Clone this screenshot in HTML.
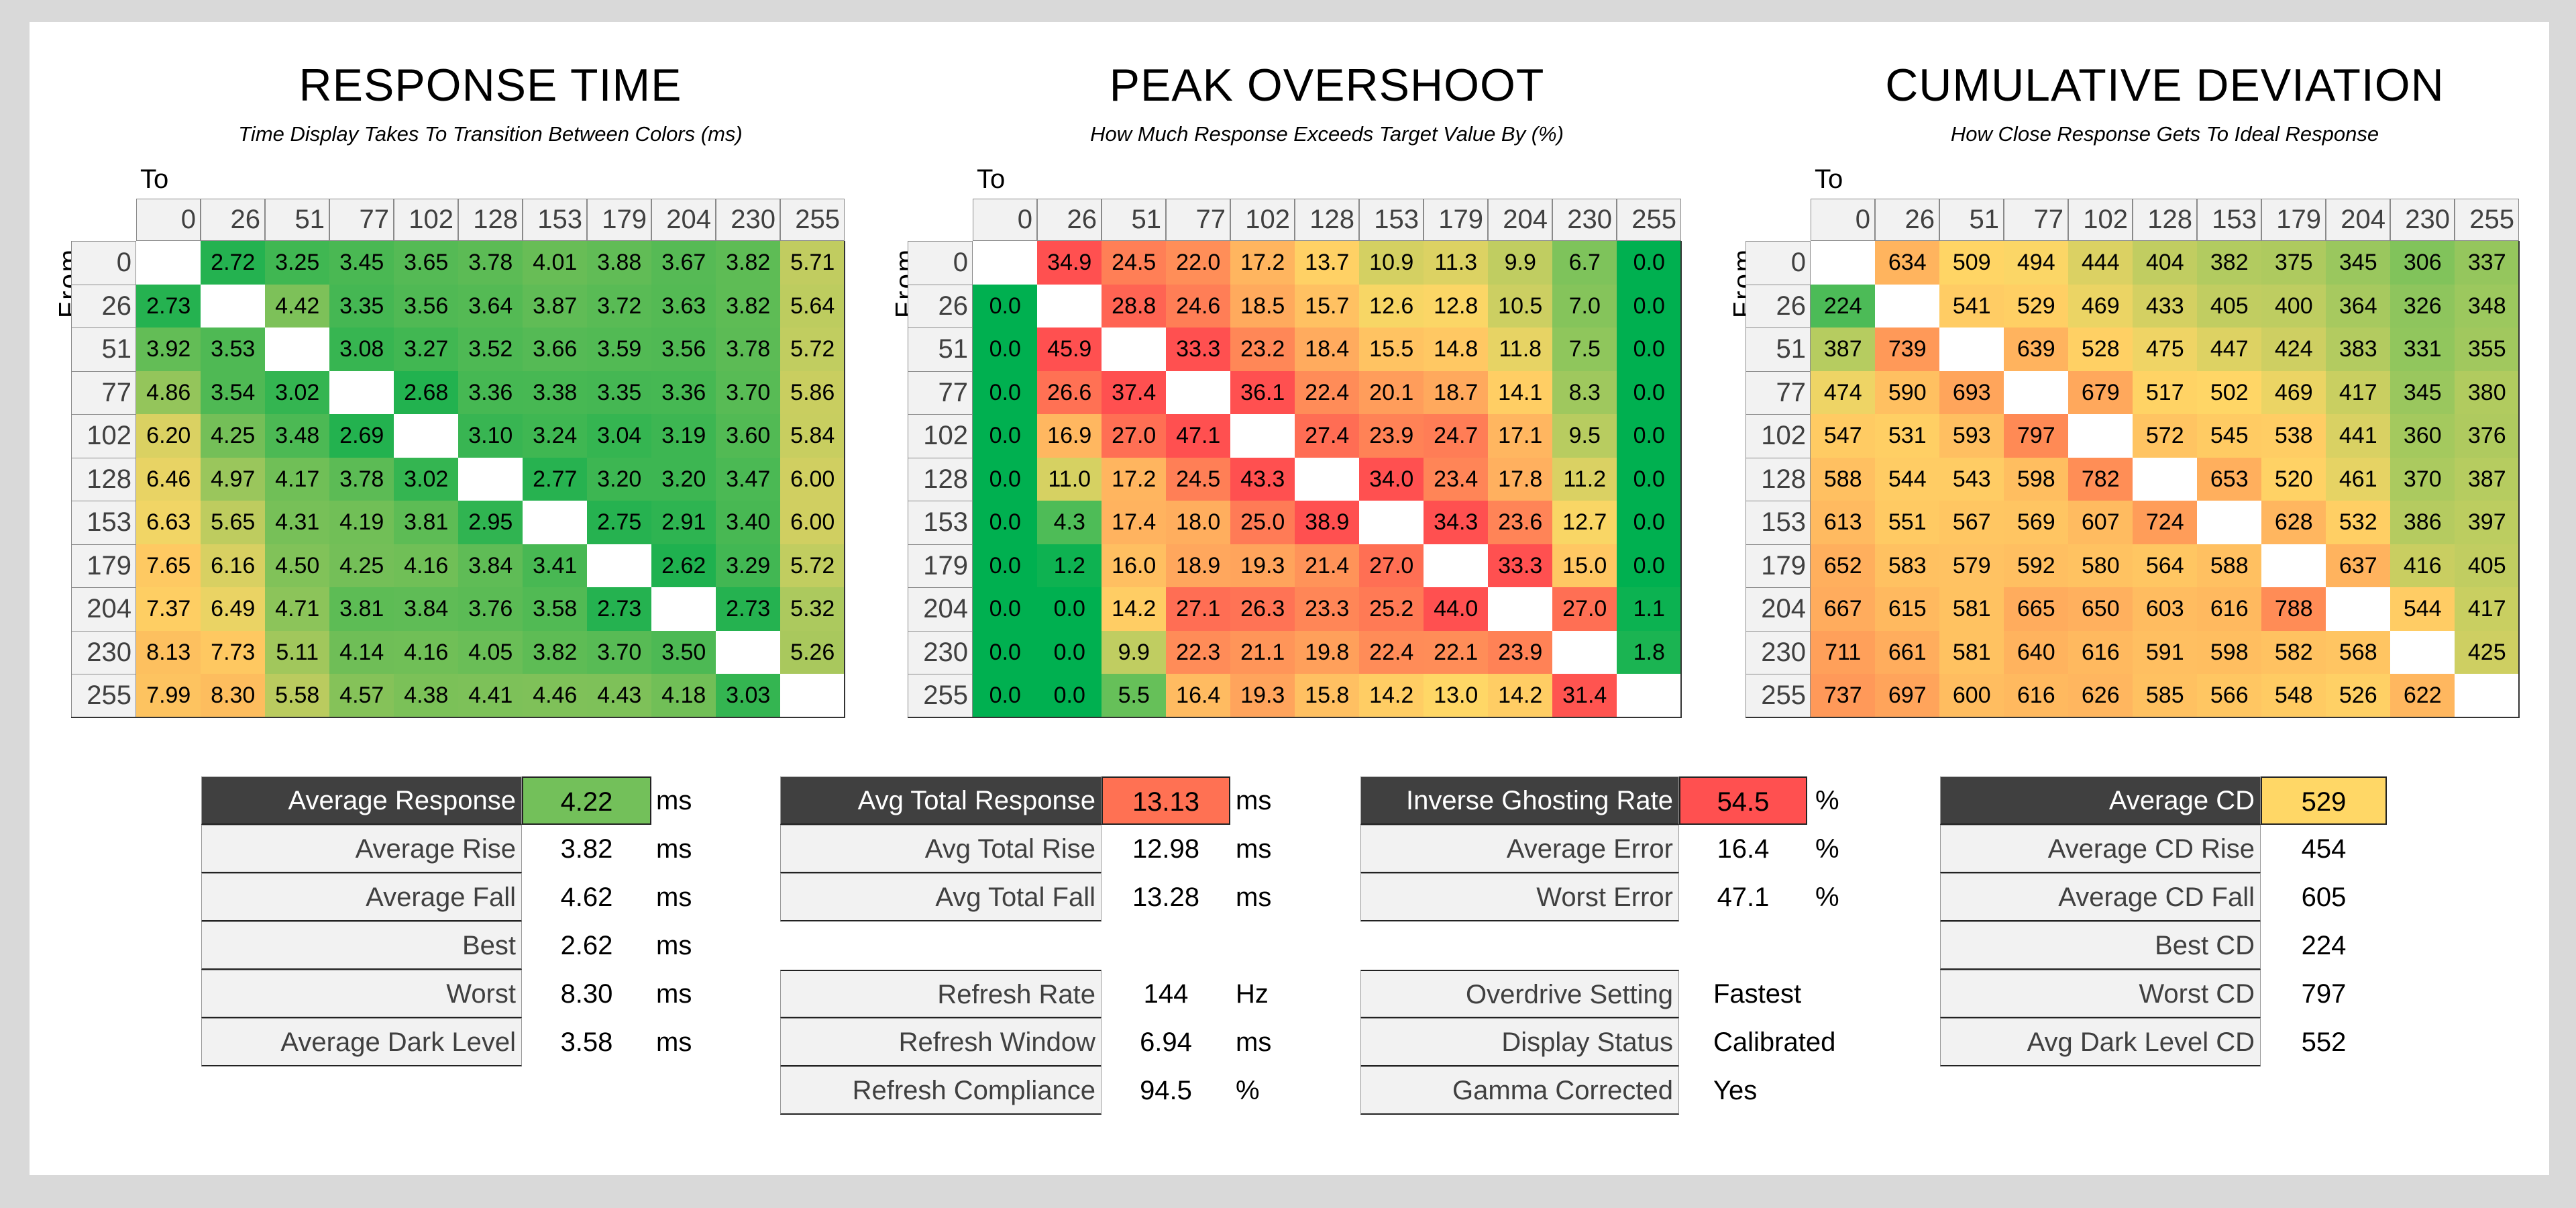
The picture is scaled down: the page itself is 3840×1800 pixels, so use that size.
<!DOCTYPE html>
<html><head><meta charset="utf-8">
<style>
html,body{margin:0;padding:0}
body{width:3840px;height:1800px;background:#d9d9d9;position:relative;overflow:hidden;font-family:"Liberation Sans Narrow","Liberation Sans",sans-serif;}
#panel{position:absolute;left:44px;top:33px;width:3756px;height:1718px;background:#fff}
.abs{position:absolute;box-sizing:border-box}
.title{position:absolute;width:1056px;text-align:center;font-size:68px;color:#000;letter-spacing:1px;top:88px}
.sub{position:absolute;width:1056px;text-align:center;font-size:31px;font-style:italic;color:#000;top:182px}
.to{position:absolute;font-size:40px;top:245px}
.from{position:absolute;font-size:40px;transform:rotate(-90deg);transform-origin:center;letter-spacing:3px}
.hc{position:absolute;box-sizing:border-box;background:#f2f2f2;border:1px solid #8a8a8a;color:#404040;font-size:40px;text-align:right;padding-right:6px;display:flex;align-items:center;justify-content:flex-end}
.cell{position:absolute;box-sizing:border-box;font-size:34px;color:#000;display:flex;align-items:center;justify-content:center}
.lab{position:absolute;box-sizing:border-box;background:#f2f2f2;border:1px solid #999;border-bottom:2px solid #222;color:#404040;font-size:40px;text-align:right;padding-right:8px;height:72px;line-height:70px}
.lab.dark{background:#404040;color:#fff}
.val{position:absolute;box-sizing:border-box;font-size:40px;text-align:center;height:72px;line-height:72px;color:#000}
.val.box{border:2px solid #222}
.unit{position:absolute;font-size:40px;height:72px;line-height:72px;color:#000}
</style></head>
<body>
<div id="panel"></div>

<div class="title" style="left:203px">RESPONSE TIME</div>
<div class="sub" style="left:203px">Time Display Takes To Transition Between Colors (ms)</div>
<div class="title" style="left:1450px">PEAK OVERSHOOT</div>
<div class="sub" style="left:1450px">How Much Response Exceeds Target Value By (%)</div>
<div class="title" style="left:2699px">CUMULATIVE DEVIATION</div>
<div class="sub" style="left:2699px">How Close Response Gets To Ideal Response</div>

<div id="hm"></div>

<div id="tables">
<!-- table 1 -->
<div class="lab dark" style="left:300px;top:1157px;width:478px">Average Response</div>
<div class="val box" style="left:778px;top:1157px;width:193px;background:#73c05a">4.22</div>
<div class="unit" style="left:978px;top:1157px">ms</div>
<div class="lab" style="left:300px;top:1229px;width:478px">Average Rise</div>
<div class="val" style="left:778px;top:1229px;width:193px">3.82</div>
<div class="unit" style="left:978px;top:1229px">ms</div>
<div class="lab" style="left:300px;top:1301px;width:478px">Average Fall</div>
<div class="val" style="left:778px;top:1301px;width:193px">4.62</div>
<div class="unit" style="left:978px;top:1301px">ms</div>
<div class="lab" style="left:300px;top:1373px;width:478px">Best</div>
<div class="val" style="left:778px;top:1373px;width:193px">2.62</div>
<div class="unit" style="left:978px;top:1373px">ms</div>
<div class="lab" style="left:300px;top:1445px;width:478px">Worst</div>
<div class="val" style="left:778px;top:1445px;width:193px">8.30</div>
<div class="unit" style="left:978px;top:1445px">ms</div>
<div class="lab" style="left:300px;top:1517px;width:478px">Average Dark Level</div>
<div class="val" style="left:778px;top:1517px;width:193px">3.58</div>
<div class="unit" style="left:978px;top:1517px">ms</div>
<!-- table 2 -->
<div class="lab dark" style="left:1163px;top:1157px;width:479px">Avg Total Response</div>
<div class="val box" style="left:1642px;top:1157px;width:192px;background:#ff7153">13.13</div>
<div class="unit" style="left:1842px;top:1157px">ms</div>
<div class="lab" style="left:1163px;top:1229px;width:479px">Avg Total Rise</div>
<div class="val" style="left:1642px;top:1229px;width:192px">12.98</div>
<div class="unit" style="left:1842px;top:1229px">ms</div>
<div class="lab" style="left:1163px;top:1301px;width:479px">Avg Total Fall</div>
<div class="val" style="left:1642px;top:1301px;width:192px">13.28</div>
<div class="unit" style="left:1842px;top:1301px">ms</div>
<div class="lab" style="left:1163px;top:1445px;width:479px;border-top:2px solid #222">Refresh Rate</div>
<div class="val" style="left:1642px;top:1445px;width:192px">144</div>
<div class="unit" style="left:1842px;top:1445px">Hz</div>
<div class="lab" style="left:1163px;top:1517px;width:479px">Refresh Window</div>
<div class="val" style="left:1642px;top:1517px;width:192px">6.94</div>
<div class="unit" style="left:1842px;top:1517px">ms</div>
<div class="lab" style="left:1163px;top:1589px;width:479px">Refresh Compliance</div>
<div class="val" style="left:1642px;top:1589px;width:192px">94.5</div>
<div class="unit" style="left:1842px;top:1589px">%</div>
<!-- table 3 -->
<div class="lab dark" style="left:2028px;top:1157px;width:475px">Inverse Ghosting Rate</div>
<div class="val box" style="left:2503px;top:1157px;width:191px;background:#ff5050">54.5</div>
<div class="unit" style="left:2706px;top:1157px">%</div>
<div class="lab" style="left:2028px;top:1229px;width:475px">Average Error</div>
<div class="val" style="left:2503px;top:1229px;width:191px">16.4</div>
<div class="unit" style="left:2706px;top:1229px">%</div>
<div class="lab" style="left:2028px;top:1301px;width:475px">Worst Error</div>
<div class="val" style="left:2503px;top:1301px;width:191px">47.1</div>
<div class="unit" style="left:2706px;top:1301px">%</div>
<div class="lab" style="left:2028px;top:1445px;width:475px;border-top:2px solid #222">Overdrive Setting</div>
<div class="unit" style="left:2554px;top:1445px">Fastest</div>
<div class="lab" style="left:2028px;top:1517px;width:475px">Display Status</div>
<div class="unit" style="left:2554px;top:1517px">Calibrated</div>
<div class="lab" style="left:2028px;top:1589px;width:475px">Gamma Corrected</div>
<div class="unit" style="left:2554px;top:1589px">Yes</div>
<!-- table 4 -->
<div class="lab dark" style="left:2892px;top:1157px;width:478px">Average CD</div>
<div class="val box" style="left:3370px;top:1157px;width:188px;background:#ffd766">529</div>
<div class="lab" style="left:2892px;top:1229px;width:478px">Average CD Rise</div>
<div class="val" style="left:3370px;top:1229px;width:188px">454</div>
<div class="lab" style="left:2892px;top:1301px;width:478px">Average CD Fall</div>
<div class="val" style="left:3370px;top:1301px;width:188px">605</div>
<div class="lab" style="left:2892px;top:1373px;width:478px">Best CD</div>
<div class="val" style="left:3370px;top:1373px;width:188px">224</div>
<div class="lab" style="left:2892px;top:1445px;width:478px">Worst CD</div>
<div class="val" style="left:3370px;top:1445px;width:188px">797</div>
<div class="lab" style="left:2892px;top:1517px;width:478px">Avg Dark Level CD</div>
<div class="val" style="left:3370px;top:1517px;width:188px">552</div>
</div>

<script>
const levels = [0,26,51,77,102,128,153,179,204,230,255];
const rtValues = [
[null,2.72,3.25,3.45,3.65,3.78,4.01,3.88,3.67,3.82,5.71],
[2.73,null,4.42,3.35,3.56,3.64,3.87,3.72,3.63,3.82,5.64],
[3.92,3.53,null,3.08,3.27,3.52,3.66,3.59,3.56,3.78,5.72],
[4.86,3.54,3.02,null,2.68,3.36,3.38,3.35,3.36,3.70,5.86],
[6.20,4.25,3.48,2.69,null,3.10,3.24,3.04,3.19,3.60,5.84],
[6.46,4.97,4.17,3.78,3.02,null,2.77,3.20,3.20,3.47,6.00],
[6.63,5.65,4.31,4.19,3.81,2.95,null,2.75,2.91,3.40,6.00],
[7.65,6.16,4.50,4.25,4.16,3.84,3.41,null,2.62,3.29,5.72],
[7.37,6.49,4.71,3.81,3.84,3.76,3.58,2.73,null,2.73,5.32],
[8.13,7.73,5.11,4.14,4.16,4.05,3.82,3.70,3.50,null,5.26],
[7.99,8.30,5.58,4.57,4.38,4.41,4.46,4.43,4.18,3.03,null]];
const osValues = [
[null,34.9,24.5,22.0,17.2,13.7,10.9,11.3,9.9,6.7,0.0],
[0.0,null,28.8,24.6,18.5,15.7,12.6,12.8,10.5,7.0,0.0],
[0.0,45.9,null,33.3,23.2,18.4,15.5,14.8,11.8,7.5,0.0],
[0.0,26.6,37.4,null,36.1,22.4,20.1,18.7,14.1,8.3,0.0],
[0.0,16.9,27.0,47.1,null,27.4,23.9,24.7,17.1,9.5,0.0],
[0.0,11.0,17.2,24.5,43.3,null,34.0,23.4,17.8,11.2,0.0],
[0.0,4.3,17.4,18.0,25.0,38.9,null,34.3,23.6,12.7,0.0],
[0.0,1.2,16.0,18.9,19.3,21.4,27.0,null,33.3,15.0,0.0],
[0.0,0.0,14.2,27.1,26.3,23.3,25.2,44.0,null,27.0,1.1],
[0.0,0.0,9.9,22.3,21.1,19.8,22.4,22.1,23.9,null,1.8],
[0.0,0.0,5.5,16.4,19.3,15.8,14.2,13.0,14.2,31.4,null]];
const cdValues = [
[null,634,509,494,444,404,382,375,345,306,337],
[224,null,541,529,469,433,405,400,364,326,348],
[387,739,null,639,528,475,447,424,383,331,355],
[474,590,693,null,679,517,502,469,417,345,380],
[547,531,593,797,null,572,545,538,441,360,376],
[588,544,543,598,782,null,653,520,461,370,387],
[613,551,567,569,607,724,null,628,532,386,397],
[652,583,579,592,580,564,588,null,637,416,405],
[667,615,581,665,650,603,616,788,null,544,417],
[711,661,581,640,616,591,598,582,568,null,425],
[737,697,600,616,626,585,566,548,526,622,null]];

function scale(stops){
  return function(v){
    if(v<=stops[0][0]) return stops[0][1];
    for(let i=1;i<stops.length;i++){
      if(v<=stops[i][0]){
        const a=stops[i-1],b=stops[i],t=(v-a[0])/(b[0]-a[0]);
        return 'rgb('+[0,1,2].map(k=>Math.round(a[1][k]+(b[1][k]-a[1][k])*t)).join(',')+')';
      }
    }
    return stops[stops.length-1][1];
  };
}
function rgbStr(c){return Array.isArray(c)?'rgb('+c.join(',')+')':c;}
const rtColor = scale([[2.62,[31,177,79]],[6.9,[255,215,102]],[8.3,[253,189,94]]]);
const osColor = scale([[0.5,[0,176,80]],[13,[255,215,102]],[22,[255,142,88]],[32,[255,80,80]]]);
const cdColor = scale([[224,[76,187,87]],[500,[255,215,102]],[800,[255,137,85]]]);

const CW=96, RH=64.5, HT=296, HB=359;
function buildHeatmap(name, left, data, colorFn, decimals){
  const root=document.getElementById('hm');
  const to=document.createElement('div');
  to.className='to'; to.style.left=(left+6)+'px'; to.textContent='To';
  
  
  root.appendChild(to);
  const fr=document.createElement('div');
  fr.className='from'; fr.style.left=(left-160)+'px'; fr.style.top=(HB+RH-25)+'px';
  fr.style.width='120px'; fr.style.textAlign='center'; fr.textContent='From';
  
  
  root.appendChild(fr);
  levels.forEach((lv,j)=>{
    const h=document.createElement('div');
    h.className='hc';
    h.style.left=(left+j*CW)+'px'; h.style.top=HT+'px';
    h.style.width=CW+'px'; h.style.height=(HB-HT)+'px';
    h.textContent=lv;
    
    
    root.appendChild(h);
  });
  levels.forEach((lv,i)=>{
    const r=document.createElement('div');
    r.className='hc';
    r.style.left=(left-97)+'px'; r.style.top=(HB+i*RH)+'px';
    r.style.width='97px'; r.style.height=(RH+1)+'px';
    r.textContent=lv;
    
    
    root.appendChild(r);
    data[i].forEach((v,j)=>{
      const c=document.createElement('div');
      c.className='cell';
      c.style.left=(left+j*CW)+'px'; c.style.top=(HB+i*RH)+'px';
      c.style.width=(CW+0.5)+'px'; c.style.height=(RH+0.5)+'px';
      if(v===null){c.style.background='#fff';}
      else{c.style.background=rgbStr(colorFn(v)); c.textContent=v.toFixed(decimals);}
      
      
      root.appendChild(c);
    });
  });
  const fb=document.createElement('div');
  fb.className='abs';
  fb.style.left=(left-97)+'px'; fb.style.top=HB+'px';
  fb.style.width=(97+11*CW+1)+'px'; fb.style.height=(11*RH+1)+'px';
  fb.style.borderRight='2px solid #333'; fb.style.borderBottom='2px solid #333';
  fb.style.pointerEvents='none';
  
  
  root.appendChild(fb);
}
buildHeatmap('response-time', 203, rtValues, rtColor, 2);
buildHeatmap('peak-overshoot', 1450, osValues, osColor, 1);
buildHeatmap('cumulative-deviation', 2699, cdValues, cdColor, 0);
</script>
</body></html>
